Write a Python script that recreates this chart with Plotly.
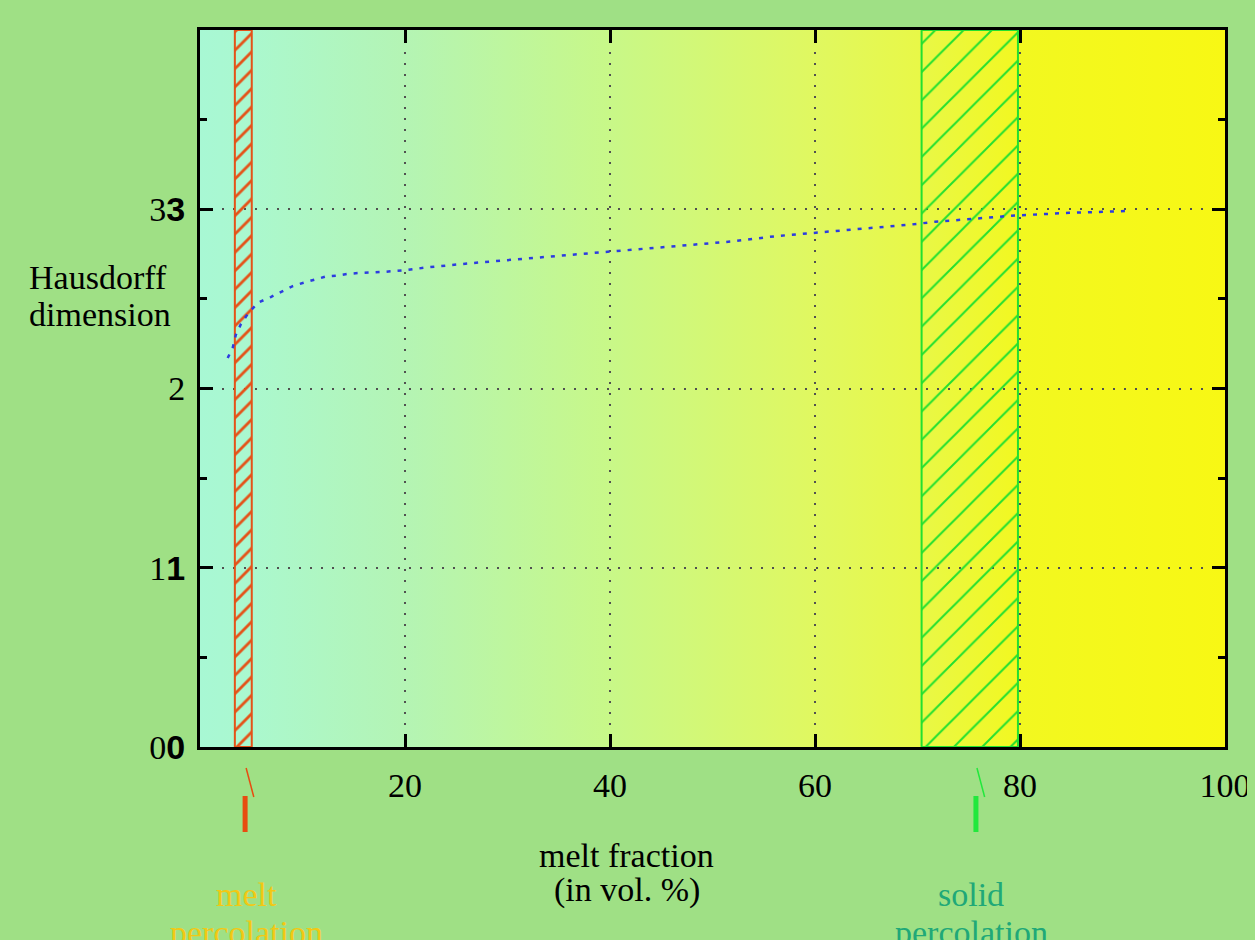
import base64
import plotly.graph_objects as go

# ---------------- data ----------------
melt_fraction = [2.7, 3.2, 3.5, 4.0, 4.7, 5.7, 6.9, 8.0, 9.0, 10.1, 11.3, 12.3, 13.4,
                 14.5, 15.7, 17.8, 20.0, 22.2, 26.6, 30.9, 35.3, 39.9, 43.1, 47.5,
                 51.8, 56.2, 59.5, 61.8, 65.0, 69.4, 71.7, 75.1, 79.5, 84.8, 90.4]
hausdorff_dim = [2.17, 2.23, 2.30, 2.36, 2.42, 2.48, 2.51, 2.54, 2.57, 2.59, 2.61, 2.625,
                 2.63, 2.64, 2.645, 2.65, 2.66, 2.676, 2.70, 2.72, 2.74, 2.765, 2.78,
                 2.80, 2.82, 2.85, 2.866, 2.875, 2.89, 2.915, 2.93, 2.945, 2.965, 2.98, 2.99]

x_tick_vals = [20, 40, 60, 80, 100]
x_tick_labels = ["20", "40", "60", "80", "100"]
y_tick_vals = [0, 1, 2, 3]
y_tick_labels = ["0", "1", "2", "3"]
y_tick_doubled = [True, True, False, True]

melt_band = [3.4, 5.05]       # melt percolation range (vol. %)
solid_band = [70.4, 79.8]     # solid percolation range (vol. %)
melt_threshold = 4.4
solid_threshold = 75.7

grad_pos = [0, 4, 20, 40, 60, 70, 80, 100]
grad_colors = ["#a8f8d4", "#aaf8d0", "#b4f4b4", "#c8f888", "#e0f860",
               "#e8f848", "#f2f820", "#f8f814"]

X_RANGE = [0, 100]
Y_RANGE = [0, 4]

# ---------------- layout helpers ----------------
W, H = 1255, 940
BODY = 8                      # page body margin offset
PAPER = "#9fe085"
PL, PR, PT, PB = 200, 1230, 30, 747   # target plot area, in screen pixels
SERIF = "Liberation Serif"
FS = 34

# figure-internal margins (screen pixels minus body offset)
ML = PL - BODY
MT = PT - BODY
MR = W - (PR - BODY)
MB = H - (PB - BODY)


def px_x(px):
    return (px - PL) / (PR - PL)


def px_y(py):
    return (PB - py) / (PB - PT)


# gradient background as an SVG image
stops = "".join(
    f'<stop offset="{p / 100:.3f}" stop-color="{c}"/>' for p, c in zip(grad_pos, grad_colors)
)
svg = ('<svg xmlns="http://www.w3.org/2000/svg" width="1000" height="10" '
       'preserveAspectRatio="none"><defs><linearGradient id="g" x1="0" x2="1" y1="0" y2="0">'
       f'{stops}</linearGradient></defs><rect width="1000" height="10" fill="url(#g)"/></svg>')
svg_uri = "data:image/svg+xml;base64," + base64.b64encode(svg.encode()).decode()

fig = go.Figure()

bands = [(melt_band, "#e45218", 13, 0.22), (solid_band, "#22e030", 20, 0.10)]
for (lo, hi), col, size, sol in bands:
    fig.add_trace(go.Bar(
        x=[(lo + hi) / 2], y=[Y_RANGE[1] - Y_RANGE[0]], base=[Y_RANGE[0]], width=[hi - lo],
        marker=dict(color="rgba(0,0,0,0)", line=dict(color=col, width=2),
                    pattern=dict(shape="/", fgcolor=col, bgcolor="rgba(0,0,0,0)",
                                 fgopacity=1, size=size, solidity=sol)),
        hoverinfo="skip", showlegend=False))

fig.add_trace(go.Scatter(
    x=melt_fraction, y=hausdorff_dim, mode="lines",
    line=dict(color="#2c3ce0", width=2.5, dash="4px,7px"),
    showlegend=False, hoverinfo="skip"))

bold_span = '<span style="font-family:Liberation Sans;font-weight:bold">{}</span>'
y_text = [t + (bold_span.format(t) if d else "") for t, d in zip(y_tick_labels, y_tick_doubled)]

axis_common = dict(
    showline=True, linecolor="black", linewidth=3, mirror="ticks",
    ticks="inside", tickcolor="black", tickwidth=3, ticklen=13,
    showgrid=True, gridcolor="#505050", gridwidth=1.5, griddash="2px,9px",
    zeroline=False, tickfont=dict(family=SERIF, size=FS, color="black"),
    fixedrange=True,
)

fig.update_layout(
    width=W, height=H,
    margin=dict(l=ML, r=MR, t=MT, b=MB),
    paper_bgcolor=PAPER, plot_bgcolor="#aaf8d0",
    barmode="overlay",
    xaxis=dict(range=X_RANGE, tickvals=x_tick_vals, ticktext=x_tick_labels,
               ticklabelstandoff=6, **axis_common),
    yaxis=dict(range=Y_RANGE, tickvals=y_tick_vals, ticktext=y_text,
               ticklabelstandoff=5,
               minor=dict(dtick=0.5, tick0=0, ticks="inside", ticklen=7,
                          tickwidth=3, tickcolor="black", showgrid=False),
               **axis_common),
    images=[dict(source=svg_uri, xref="x", yref="y", x=X_RANGE[0], y=Y_RANGE[1],
                 sizex=X_RANGE[1] - X_RANGE[0], sizey=Y_RANGE[1] - Y_RANGE[0],
                 xanchor="left", yanchor="top", sizing="stretch", layer="below")],
)

# threshold markers below the axis
markers = [(melt_threshold, "#e84c10"), (solid_threshold, "#22e83c")]
shapes = []
for xv, col in markers:
    shapes.append(dict(type="line", xref="x", yref="paper", x0=xv, x1=xv,
                       y0=px_y(796), y1=px_y(832), line=dict(color=col, width=5)))
    shapes.append(dict(type="line", xref="x", yref="paper", x0=xv + 0.1, x1=xv + 0.85,
                       y0=px_y(768), y1=px_y(797), line=dict(color=col, width=1.5)))
fig.update_layout(shapes=shapes)

annos = [
    ("Hausdorff", 26, 277, "left", "black"),
    ("dimension", 26, 314, "left", "black"),
    ("melt fraction", 629, 855, "center", "black"),
    ("(in vol. %)", 629, 890, "center", "black"),
    ("melt", 247, 894, "center", "#f2c814"),
    ("percolation", 247, 932, "center", "#f2c814"),
    ("solid", 975, 894, "center", "#20a878"),
    ("percolation", 975, 932, "center", "#20a878"),
]
for text, ax, ay, anchor, col in annos:
    fig.add_annotation(text=text, xref="paper", yref="paper", x=px_x(ax), y=px_y(ay),
                       xanchor=anchor, yanchor="middle", showarrow=False,
                       font=dict(family=SERIF, size=FS, color=col))

page_js = f"document.body.style.background='{PAPER}';"
fig.write_html("out.html", post_script=page_js, config={"displayModeBar": False})
